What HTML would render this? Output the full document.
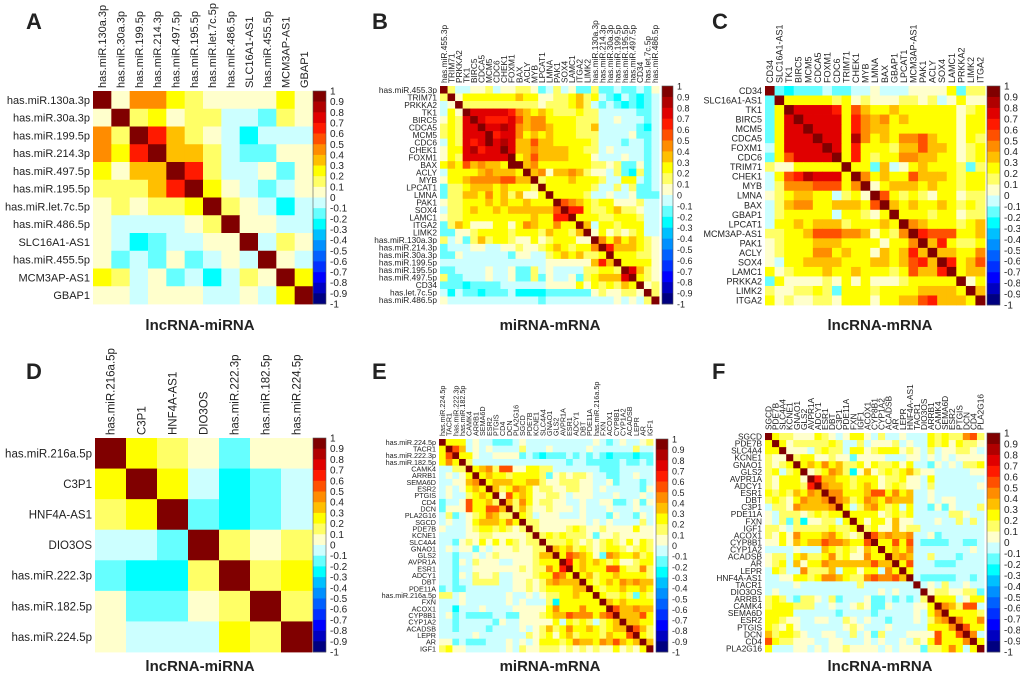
<!DOCTYPE html>
<html><head><meta charset="utf-8">
<style>
html,body{margin:0;padding:0;background:#fff;}
svg{display:block;font-family:"Liberation Sans",sans-serif;}
</style></head>
<body>
<svg id="fig" width="1020" height="676" viewBox="0 0 1020 676" xmlns="http://www.w3.org/2000/svg"></svg>
<script>
// ---------- DATA ----------
// codes: '0'..'9' => +0.05..+0.95 ; 'a'..'j' => -0.05..-0.95
const aLabels=["has.miR.130a.3p","has.miR.30a.3p","has.miR.199.5p","has.miR.214.3p","has.miR.497.5p","has.miR.195.5p","has.miR.let.7c.5p","has.miR.486.5p","SLC16A1-AS1","has.miR.455.5p","MCM3AP-AS1","GBAP1"];
const aValues=[
"904421000020",
"0912011aab10",
"4196310acaaa",
"4269331abb00",
"2033961aa0b0",
"11136920aba0",
"010112910aca",
"0aaaa01900aa",
"0acbaa009a10",
"0bab0ba0a90a",
"21a0baca1092",
"00a000aa0a29"];
const dLabels=["has.miR.216a.5p","C3P1","HNF4A-AS1","DIO3OS","has.miR.222.3p","has.miR.182.5p","has.miR.224.5p"];
const dValues=["9210b00","292acba","129bcba","aab9101","bcc1912","0bb0191","0aaa219"];
const bRows=["has.miR.455.3p","TRIM71","PRKKA2","TK1","BIRC5","CDCA5","MCM5","CDC6","CHEK1","FOXM1","BAX","ACLY","MYB","LPCAT1","LMNA","PAK1","SOX4","LAMC1","ITGA2","LIMK2","has.miR.130a.3p","has.miR.214.3p","has.miR.30a.3p","has.miR.199.5p","has.miR.195.5p","has.miR.497.5p","CD34","has.let.7c.5p","has.miR.486.5p"];
const bValues=[
"91aa001a00"+"110ba1a0bb"+"1bbabbab0",
"1902222222"+"3220011231"+"2abcabcba",
"a091111111"+"1110111231"+"ababcbcba",
"a209777776"+"4323211121"+"1aaaaabba",
"0217976667"+"5344222211"+"1aa0aaaba",
"1217797787"+"4344322211"+"3aaaaabca",
"1217779677"+"4232322211"+"1aaaa0bba",
"a217679787"+"3353322222"+"1aaabaaba",
"0227867797"+"3343333221"+"1a0aaaaba",
"0217777779"+"2353333222"+"0aaa0aaba",
"2325343329"+"9342222222"+"1101bb0ba",
"a222234333"+"2934033431"+"00a1bc1ba",
"0223444455"+"3391222322"+"21aa22aba",
"b112333232"+"2219222222"+"1aa1a1bba",
"b113324231"+"3002922221"+"aa0aa0bbb",
"0112223232"+"2322295432"+"1220001aa",
"a112322323"+"3333359662"+"1123110aa",
"0112222222"+"2232266922"+"2112221aa",
"b132000220"+"2432242293"+"a221222aa",
"bb00122221"+"2221322139"+"0201012aa",
"1a0b131221"+"0020122200"+"942423210",
"baaa00aa00"+"1001232122"+"496333210",
"bb0aaaaaab"+"00aa123231"+"129222110",
"aaaaaaaaaa"+"aaaa000000"+"363922220",
"bbaaaa0aa0"+"bb1a0aaaa1"+"122197310",
"1bbaaa0aa0"+"bb1b0aa0b1"+"233379210",
"bbbcbbbbaa"+"aaaa000020"+"212132901",
"acabbcbbba"+"ccccbbbbbb"+"010011091",
"0aaaaaaaaa"+"aaabaaaaaa"+"aaa0a0a19"];
const cRows=["CD34","SLC16A1-AS1","TK1","BIRC5","MCM5","CDCA5","FOXM1","CDC6","TRIM71","CHEK1","MYB","LMNA","BAX","GBAP1","LPCAT1","MCM3AP-AS1","PAK1","ACLY","SOX4","LAMC1","PRKKA2","LIMK2","ITGA2"];
const cValues=[
"9bcbbbabba"+"a0aaa00002"+"b11",
"b922222120"+"10001101a0"+"200",
"b297777625"+"3223222222"+"012",
"b279777726"+"4342322222"+"022",
"b277977726"+"4332222222"+"022",
"b277797728"+"4232445322"+"021",
"a277779726"+"2221335332"+"012",
"b257777926"+"2122443322"+"012",
"1002222292"+"2b3a023222"+"1b1",
"a256877729"+"4232253332"+"122",
"a144455524"+"9023332322"+"122",
"0123322a12"+"0952121022"+"011",
"a134422333"+"2593232232"+"121",
"a122222a22"+"1029222122"+"011",
"a223233312"+"2232943222"+"123",
"1122355544"+"3021496555"+"223",
"0122233322"+"2202249362"+"112",
"0122244232"+"2032363933"+"224",
"0a22333322"+"2332356396"+"235",
"2012223223"+"2221253369"+"233",
"b200001020"+"2000122222"+"902",
"1001121b22"+"2122223333"+"293",
"2010011022"+"2022335633"+"329"];
const eRows=["has.miR.224.5p","TACR1","has.miR.222.3p","has.miR.182.5p","CAMK4","ARRB1","SEMA6D","ESR2","PTGIS","CD4","DCN","PLA2G16","SGCD","PDE7B","KCNE1","SLC4A4","GNAO1","GLS2","AVPR1A","ESR1","ADCY1","DBT","PDE11A","has.miR.216a.5p","FXN","ACOX1","CYP8B1","CYP1A2","ACADSB","LEPR","AR","IGF1"];
const eValues=[
"9222"+"a0aabbba"+"0aaaaaaaaaa"+"0aba0aa01",
"2953"+"a0a0aaaa"+"1aaa0aaaaa0"+"aaaaaa1aa",
"2592"+"20aa0000"+"babcbbbabab"+"abcbbbcbb",
"2429"+"1aaaaaaa"+"aaaaaaabaab"+"bbbbabbab",
"aa11"+"92341550"+"02211aaaaaa"+"abbbaaaaa",
"a0a0"+"29232212"+"2221b010110"+"aabbaa0aa",
"aa00"+"34923332"+"23310011100"+"aa0baaaba",
"a0a0"+"23293124"+"32011001100"+"a0aaaaab0",
"a0aa"+"12329052"+"3200110a000"+"aaa0aaa0a",
"baa0"+"52231931"+"4201100aa0a"+"a00bba0b0",
"b000"+"52255391"+"31001000a0a"+"aa0aaa0aa",
"a1ba"+"01243119"+"21a000aaa0a"+"aab0aab0a",
"a0aa"+"02333242"+"9110000000a"+"0a0aaaa1a",
"0aaa"+"01221210"+"19100001210"+"010000200",
"aaaa"+"00110000"+"01912121110"+"b00100000",
"aab0"+"10202021"+"01191112101"+"012102021",
"a0a0"+"0b0a0001"+"00119323121"+"012210121",
"aaba"+"a0a01000"+"00133925432"+"0b4322312",
"aab0"+"a1000aa0"+"00122296232"+"321200122",
"aaba"+"a0000000"+"10114269232"+"225521141",
"aab0"+"a1001aa0"+"00122542923"+"122322221",
"aaba"+"a1111aa0"+"01013433392"+"123243433",
"babb"+"aaaaaaa0"+"01012222339"+"212232232",
"11a0"+"aaaaaa0a"+"a0a01122322"+"921121b21",
"aaa0"+"aaaaaa0a"+"0aaa1c22222"+"293232222",
"aaca"+"aa0aaaa0"+"00002422242"+"229533433",
"a0ba"+"bbbbaabb"+"00012335444"+"245933352",
"aaba"+"aaaab0aa"+"000002a2121"+"a12393322",
"aaba"+"aaabaaaa"+"0a013124223"+"212339531",
"aaaa"+"a0aaaaaa"+"a1012023122"+"213225921",
"00ba"+"bbbaaa0a"+"0a022212433"+"243532393",
"1200"+"aaaaaa0a"+"10011101010"+"100201029"];
const fRows=["SGCD","PDE7B","SLC4A4","KCNE1","GNAO1","GLS2","AVPR1A","ADCY1","ESR1","DBT","C3P1","PDE11A","FXN","IGF1","ACOX1","CYP8B1","CYP1A2","ACADSB","AR","LEPR","HNF4A-AS1","TACR1","DIO3OS","ARRB1","CAMK4","SEMA6D","ESR2","PTGIS","DCN","CD4","PLA2G16"];
const fValues=[
"9211000210a0220a1aa0a"+"aa21211451",
"29201111121aa1a0001a0"+"aa21202110",
"229000a1211a220122201"+"0a1a00110a",
"100912200100b0000aaa0"+"0a0a0a0000",
"101292324231120211202"+"aab0a0a112",
"12a129012431c03012123"+"100aaaaa00",
"102220963322122201120"+"0a2aaaaaaa",
"102221694332123201210"+"0a1aaaaaa0",
"212132439442223552423"+"aa0aaaaaaa",
"121024334943124324333"+"aa0a00aaaa",
"a11043333492a134212a2"+"aab0b0aaa1",
"0a1110121229222201212"+"aaaaa110aa",
"0a1b1c0011a2920220300"+"aaa0aa1a1a",
"110a11111211291200301"+"1aaaaaaaaa",
"102042223421019534334"+"aa0baaaaaa",
"002032335443225922525"+"abbbbaabba",
"aaaa0aaa3212103292324"+"aaaaaaaa0a",
"011a23112412004229343"+"aa1aaabaaa",
"012a30224333333533925"+"aaabbbaaaa",
"a21aa41113a22022a4292"+"aaaaaaaaaa",
"aa0022124432114544539"+"abbbbbaaba",
"aaaa0aaaaaaaa1aaaaaaa"+"9a0a1aa0aa",
"a0aaaaaaaaaaaaaa0a0aa"+"a90110011b",
"121ab110a1baaa0bbabab"+"a19222a022",
"1222111aa0aa010bb0aaa"+"002943155a",
"2222aaaaaabaaaabaaaaa"+"0a24922221",
"22100aa00aa10a0aabaaa"+"0a13494224",
"21020aaaaaa010aaa0aaa"+"aa22249522",
"312210aa00aa1a0b1aaa0"+"000522594a",
"5211000aa00aaa0a0aa0a"+"1025222492",
"2aaa00a0a0010000a0a00"+"0b11242a29"];
const cbTicks=["1","0.9","0.8","0.7","0.6","0.5","0.4","0.3","0.2","0.1","0","-0.1","-0.2","-0.3","-0.4","-0.5","-0.6","-0.7","-0.8","-0.9","-1"];

// ---------- RENDER ----------
const POS=["#ffffcc","#ffff66","#ffff00","#ffbf00","#ff8c00","#ff5000","#ff1a00","#e00000","#b00000","#800000"];
const NEG=["#ccffff","#66ffff","#00ffff","#00c0ff","#0090ff","#0060ff","#0030ff","#0000ff","#0000c0","#000080"];
function decode(c){ if(c>='0'&&c<='9') return (+c+0.5)/10; return -((c.charCodeAt(0)-97)+0.5)/10; }
function color(v){ if(v>=0) return POS[Math.min(9,Math.floor(v*10))]; return NEG[Math.min(9,Math.floor(-v*10))]; }
const NS="http://www.w3.org/2000/svg";
const svg=document.getElementById('fig');
function mk(tag,attrs,parent){const e=document.createElementNS(NS,tag);for(const k in attrs)e.setAttribute(k,attrs[k]);(parent||svg).appendChild(e);return e;}

function panel(p){
  const g=mk('g',{});
  
  
  const n=p.labels.length, cw=p.w/n, ch=p.h/n;
  const xs=j=>p.x+j*cw, ys=i=>p.y+i*ch;
  p.values.forEach((row,i)=>{
    for(let j=0;j<n;j++){
      const ch_=row[j]||'0';
      const r=mk('rect',{x:xs(j).toFixed(2),y:ys(i).toFixed(2),width:(cw+0.4).toFixed(2),height:(ch+0.4).toFixed(2),fill:color(decode(ch_))},g);
      
      
    }
  });
  p.labels.forEach((l,i)=>{
    const t=mk('text',{x:p.x-3,y:(ys(i)+ch/2+p.fs*0.36).toFixed(2),'text-anchor':'end','font-size':p.fs,fill:'#222'},g);
    t.textContent=l;
    
    
    const cx=xs(i)+cw/2+p.fs*0.36, cy=p.y-3;
    const t2=mk('text',{x:cx.toFixed(2),y:cy,transform:`rotate(-90 ${cx.toFixed(2)} ${cy})`,'font-size':p.fs,fill:'#222'},g);
    t2.textContent=l;
    
    
  });
  const cb=mk('g',{},g);
  
  
  const bh=p.h/20;
  for(let k=0;k<20;k++){
    const v=0.95-k*0.1;
    mk('rect',{x:p.cbx,y:(p.y+k*bh).toFixed(2),width:p.cbw,height:(bh+0.3).toFixed(2),fill:color(v)},cb);
  }
  mk('rect',{x:p.cbx,y:p.y,width:p.cbw,height:p.h,fill:'none',stroke:'#555','stroke-width':0.6},cb);
  cbTicks.forEach((t,k)=>{
    const ty=p.y+k*p.h/20;
    const tt=mk('text',{x:p.cbx+p.cbw+4,y:(ty+3.5).toFixed(2),'font-size':p.cbfs,fill:'#222'},cb);
    tt.textContent=t;
    
    
  });
  const L=mk('text',{x:p.lx,y:p.ly,'font-size':22,'font-weight':'bold',fill:'#222'},g);
  L.textContent=p.id;
  
  
  const T=mk('text',{x:p.tx,y:p.ty,'font-size':15,'font-weight':'bold','text-anchor':'middle',fill:'#222'},g);
  T.textContent=p.title;
  
  
}
panel({id:'A',labels:aLabels,values:aValues,x:93,y:91,w:220,h:213,fs:11,cbx:313,cbw:13,cbfs:10,lx:26,ly:29,title:'lncRNA-miRNA',tx:200,ty:330});
panel({id:'B',labels:bRows,values:bValues,x:440,y:86,w:219,h:218,fs:8.3,cbx:662,cbw:11,cbfs:9,lx:372,ly:29,title:'miRNA-mRNA',tx:550,ty:330});
panel({id:'C',labels:cRows,values:cValues,x:765,y:86,w:220,h:219,fs:9,cbx:987,cbw:13,cbfs:10,lx:712,ly:29,title:'lncRNA-mRNA',tx:880,ty:330});
panel({id:'D',labels:dLabels,values:dValues,x:95,y:438,w:217,h:214,fs:11.5,cbx:313,cbw:13,cbfs:10,lx:26,ly:379,title:'lncRNA-miRNA',tx:200,ty:671});
panel({id:'E',labels:eRows,values:eValues,x:439,y:439,w:214,h:213,fs:7.2,cbx:656,cbw:12,cbfs:9,lx:372,ly:379,title:'miRNA-mRNA',tx:550,ty:671});
panel({id:'F',labels:fRows,values:fValues,x:765,y:433,w:219,h:219,fs:8.3,cbx:987,cbw:13,cbfs:10,lx:712,ly:379,title:'lncRNA-mRNA',tx:880,ty:671});
</script>
</body></html>
